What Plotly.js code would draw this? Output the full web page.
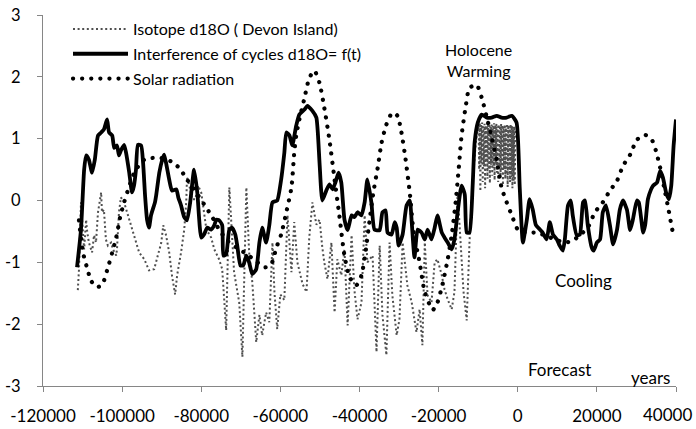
<!DOCTYPE html>
<html>
<head>
<meta charset="utf-8">
<script src="https://cdn.plot.ly/plotly-3.0.1.min.js"></script>
<style>
  html, body { margin: 0; padding: 0; background: #fff; }
  #chart { width: 696px; height: 429px; }
  path[style*="0.1px"] { stroke-linecap: round; }
</style>
</head>
<body>
<div id="chart"></div>
<script>
// ---- Isotope d18O (Devon Island) ----
const isoX = [-111200,-110900,-110400,-110100,-109600,-109100,-108900,-108400,-107600,-107100,-106600,-106100,-105300,-105100,-104600,-104100,-103600,-102800,-102300,-101500,-101300,-100800,-100300,-99500,-98200,-97000,-95700,-94400,-93200,-91900,-91200,-90100,-89600,-88900,-88100,-87400,-86600,-86100,-85100,-84300,-83800,-83600,-83000,-82300,-81500,-80800,-80000,-78700,-77500,-76700,-75500,-74700,-73700,-72900,-71700,-70400,-69600,-68600,-67900,-67100,-66100,-65300,-64600,-63600,-62800,-62000,-61500,-60800,-60000,-59000,-58200,-57200,-56500,-55700,-54400,-53400,-52700,-51900,-50900,-50100,-49400,-48900,-48100,-47100,-46300,-45600,-44600,-43800,-43000,-42000,-41300,-40500,-39500,-38700,-38000,-36700,-35700,-34900,-34200,-33200,-32400,-31700,-30600,-29900,-29100,-27900,-26800,-25600,-24800,-24100,-23500,-22800,-21800,-21000,-20300,-19200,-18500,-17700,-16700,-16000,-15200,-14400,-13700,-12900,-12200,-11400,-10600,
  -9900,-9750,-9600,-9450,-9300,-9150,-9000,-8850,-8700,-8550,-8400,-8250,-8100,-7950,-7800,-7650,-7500,-7350,-7200,-7050,-6900,-6750,-6600,-6450,-6300,-6150,-6000,-5850,-5700,-5550,-5400,-5250,-5100,-4950,-4800,-4650,-4500,-4350,-4200,-4050,-3900,-3750,-3600,-3450,-3300,-3150,-3000,-2850,-2700,-2550,-2400,-2250,-2100,-1950,-1800,-1650,-1500,-1350,-1200,-1050,-900,-750,-600];
const isoY = [-1.45,-1.11,-0.03,-0.31,-0.79,-0.31,-0.47,-0.68,-0.84,-0.56,-0.68,-0.19,0.13,-0.19,-0.15,-0.63,-0.73,-0.68,-0.79,-0.89,-0.79,-0.19,0.05,-0.03,-0.31,-0.56,-0.84,-0.95,-1.13,-1.11,-0.95,-0.68,-0.40,-0.56,-0.84,-1.21,-1.52,-1.21,-0.84,-0.47,-0.03,0.37,0.24,0.02,0.02,0.24,0.13,-0.47,-0.60,-0.79,-0.95,-1.11,-2.10,0.21,-1.16,-1.65,-2.53,0.21,-0.84,-1.32,-2.29,-1.85,-2.18,-1.81,-1.97,-0.68,-1.48,-2.08,-1.52,-1.61,-0.24,-1.16,-0.35,-1.00,-1.35,-1.48,-0.60,-0.03,-0.39,-0.31,-0.76,-1.00,-1.27,-0.68,-1.81,-0.95,-1.21,-0.79,-2.02,-0.56,-1.44,-1.92,-1.65,-0.24,-1.00,-0.89,-2.45,-0.73,-1.85,-2.50,-0.68,-1.53,-2.18,-1.92,-0.68,-1.37,-1.65,-2.13,-1.76,-2.34,-0.68,-1.53,-1.65,-1.00,-0.95,-1.21,-1.44,-1.60,-1.76,-1.48,0.13,-0.68,-1.48,-1.94,-0.68,0.29,0.94,
  1.23,0.50,1.25,0.15,1.22,0.60,1.26,0.30,1.20,0.55,1.24,0.20,1.21,0.62,1.25,0.35,1.22,0.50,1.24,0.28,1.20,0.58,1.23,0.40,1.21,0.52,1.25,0.33,1.22,0.60,1.24,0.45,1.20,0.30,1.23,0.55,1.21,0.38,1.24,0.48,1.22,0.25,1.20,0.50,1.23,0.35,1.21,0.42,1.24,0.22,1.22,0.45,1.20,0.30,1.23,0.38,1.21,0.20,1.19,0.32,1.20,0.25,1.15];

// ---- Interference of cycles d18O = f(t) ----
const intX = [-111400,-110400,-109600,-109100,-108400,-107600,-106900,-106100,-105300,-104600,-103800,-103300,-102500,-102000,-101300,-100800,-100300,-99500,-99000,-98200,-97500,-97000,-96500,-96000,-95200,-94700,-94200,-93700,-93200,-92700,-91700,-91400,-90600,-89900,-89400,-88900,-88100,-87400,-86300,-85800,-85100,-84300,-83600,-82800,-81800,-81000,-80000,-79300,-78500,-77500,-76700,-76200,-75500,-74700,-74400,-73700,-72900,-72200,-71400,-70900,-70100,-69400,-68600,-67900,-67100,-66100,-65300,-64600,-63600,-62800,-62000,-60800,-59800,-59000,-58500,-57700,-57000,-56000,-55200,-53900,-53200,-51900,-50900,-50100,-49400,-48400,-47600,-46800,-46100,-45300,-44600,-43800,-43000,-42000,-41300,-40500,-39500,-38700,-38000,-37000,-36200,-34900,-34200,-33400,-32900,-31900,-31100,-30600,-30100,-29100,-28100,-27300,-26800,-26100,-25300,-24300,-23500,-22800,-21800,-21000,-20300,-19200,-18500,-17700,-16700,-16000,-15200,-14200,-13400,-12900,-12200,-11400,-10900,-10100,-9100,-7800,-6600,-5300,-4100,-2800,-1500,-300,500,1300,2300,3000,3800,4600,5600,6300,7300,8100,8900,9900,10600,11400,11900,12700,13400,13900,14900,15700,16500,17000,17700,18700,19200,20000,20800,21500,22300,23300,24100,25100,25800,26600,27600,28400,29100,30100,30600,31700,32200,32900,33700,34200,35200,36000,36700,37500,38200,38800,39400,40000];
const intY = [-1.08,-0.47,0.50,0.73,0.66,0.45,0.66,1.05,1.10,1.15,1.31,1.10,1.05,0.85,0.89,0.73,0.81,0.90,0.77,0.45,0.13,0.24,0.50,0.90,0.89,0.61,0.08,-0.31,-0.44,-0.24,-0.03,0.08,0.45,0.65,0.74,0.61,0.34,0.16,0.18,0.05,-0.08,-0.27,-0.32,-0.03,0.50,0.13,-0.60,-0.55,-0.44,-0.47,-0.40,-0.31,-0.32,-0.40,-0.89,-0.87,-0.47,-0.44,-0.55,-0.73,-1.05,-1.05,-0.89,-1.00,-1.19,-1.11,-0.68,-0.44,-0.68,-0.40,-0.03,0.00,0.34,0.77,1.10,1.05,0.89,1.21,1.39,1.47,1.53,1.45,1.34,0.61,0.00,0.16,0.26,0.18,0.29,0.45,0.29,-0.31,-0.48,-0.24,-0.27,-0.19,-0.24,-0.03,0.34,-0.03,-0.47,-0.48,-0.19,-0.16,-0.52,-0.55,-0.35,-0.44,-0.73,-0.55,-0.08,0.00,-0.35,-0.92,-0.47,-0.52,-0.63,-0.47,-0.63,-0.44,-0.24,-0.52,-0.60,-0.68,-0.79,-0.63,-0.19,0.24,0.10,-0.52,-0.52,0.24,0.94,1.26,1.39,1.34,1.34,1.37,1.34,1.34,1.37,1.26,0.21,-0.68,-0.31,0.02,-0.15,-0.40,-0.47,-0.52,-0.63,-0.35,-0.55,-0.63,-0.73,-0.81,-0.63,-0.08,0.00,-0.24,-0.56,-0.55,-0.03,0.00,-0.40,-0.76,-0.81,-0.68,-0.63,-0.19,-0.08,-0.40,-0.71,-0.47,-0.15,0.00,-0.15,-0.48,-0.31,0.00,-0.03,-0.52,-0.40,0.02,0.18,0.24,0.29,0.48,0.37,0.13,0.02,0.24,0.89,1.31,1.53];

// ---- Solar radiation ----
const solX = [-110900,-109900,-108900,-107900,-106600,-105100,-103800,-102500,-101500,-100500,-99500,-98200,-96700,-94400,-91900,-89400,-87600,-85600,-83600,-81300,-79300,-77200,-75500,-73400,-70900,-68400,-65800,-63800,-62300,-61000,-59800,-58500,-57200,-56500,-56000,-55200,-53900,-52700,-51400,-50100,-48900,-47600,-46300,-45100,-43800,-42500,-40800,-39500,-38500,-37500,-36500,-35400,-34400,-33200,-31700,-30400,-29400,-28400,-27300,-26300,-24800,-23500,-21500,-20300,-19000,-17700,-16700,-15700,-14900,-14200,-13200,-12200,-10400,-9100,-7800,-6600,-5300,-4100,-2800,-1500,0,1800,4300,6800,9400,11900,13900,15700,17700,19500,21500,23300,25100,26600,28400,30100,32200,33900,34900,36000,37000,38000,39200];
const solY = [-0.32,-0.84,-1.08,-1.29,-1.40,-1.37,-1.13,-0.84,-0.60,-0.27,-0.03,0.23,0.48,0.66,0.69,0.68,0.63,0.53,0.34,0.13,-0.06,-0.27,-0.47,-0.65,-0.77,-0.87,-1.00,-1.08,-1.03,-0.76,-0.55,-0.19,0.21,0.77,1.05,1.31,1.66,1.98,2.10,1.90,1.50,0.98,0.34,-0.24,-0.89,-1.24,-1.37,-1.21,-0.84,-0.35,0.13,0.53,0.94,1.23,1.42,1.37,1.10,0.69,0.13,-0.52,-1.00,-1.48,-1.77,-1.65,-1.35,-0.95,-0.56,-0.03,0.53,1.05,1.50,1.82,1.87,1.66,1.34,1.02,0.65,0.21,-0.03,-0.24,-0.47,-0.52,-0.52,-0.56,-0.63,-0.68,-0.65,-0.56,-0.44,-0.19,-0.03,0.16,0.32,0.56,0.74,0.98,1.06,0.98,0.81,0.53,0.21,-0.11,-0.52];

const seriesNames = ['Isotope d18O ( Devon Island)', 'Interference of cycles d18O= f(t)', 'Solar radiation'];
const xTicks = [-120000,-100000,-80000,-60000,-40000,-20000,0,20000,40000];
// the last label is drawn as an annotation, kept inside the picture as in the reference
const xTickText = ['-120000','-100000','-80000','-60000','-40000','-20000','0','20000',''];
const lastTickLabel = '40000';
const yTicks = [-3,-2,-1,0,1,2,3];

const FONT = 'Lato, "Open Sans", sans-serif';

const traces = [
  { x: isoX, y: isoY, name: seriesNames[0], type: 'scatter', mode: 'lines', legendgroup: 'a',
    line: { color: '#4f4f4f', width: 2, dash: '2px,2.6px' } },
  { x: intX, y: intY, name: seriesNames[1], type: 'scatter', mode: 'lines', legendgroup: 'b',
    line: { color: '#000000', width: 3.8, shape: 'spline', smoothing: 0.5 } },
  { x: solX, y: solY, name: seriesNames[2], type: 'scatter', mode: 'lines', legendgroup: 'c',
    line: { color: '#000000', width: 4.2, dash: '0.1px,9px', shape: 'spline', smoothing: 0.6 } }
];

const layout = {
  width: 696, height: 429,
  margin: { l: 43, r: 20, t: 12, b: 43, pad: 0 },
  paper_bgcolor: '#ffffff', plot_bgcolor: '#ffffff',
  font: { family: FONT, color: '#000000', size: 16 },
  showlegend: true,
  legend: {
    x: 0.0395, y: 1.008, xanchor: 'left', yanchor: 'top',
    bgcolor: 'rgba(0,0,0,0)', font: { family: FONT, size: 16, color: '#000' },
    tracegroupgap: 1, itemwidth: 55
  },
  xaxis: {
    range: [-120000, 40000], tickvals: xTicks, ticktext: xTickText,
    showgrid: false, zeroline: false, showline: true, linecolor: '#868686', linewidth: 1,
    ticks: 'outside', ticklen: 5, tickcolor: '#868686',
    tickfont: { family: FONT, size: 17 }, ticklabelstandoff: 10
  },
  yaxis: {
    range: [-3, 3], tickvals: yTicks, ticktext: yTicks.map(String),
    showgrid: false, zeroline: false, showline: true, linecolor: '#868686', linewidth: 1,
    ticks: 'outside', ticklen: 5, tickcolor: '#868686',
    tickfont: { family: FONT, size: 16.5 }, ticklabelstandoff: 13
  },
  annotations: [
    { x: xTicks[xTicks.length - 1], y: -0.077, xref: 'x', yref: 'paper', text: lastTickLabel,
      showarrow: false, xanchor: 'right', yanchor: 'middle', xshift: 17, borderpad: 0,
      font: { family: FONT, size: 17 } },
    { x: -10000, y: 2.27, xref: 'x', yref: 'y', text: 'Holocene<br>Warming', showarrow: false,
      font: { family: FONT, size: 16 }, align: 'center' },
    { x: 16600, y: -1.30, xref: 'x', yref: 'y', text: 'Cooling', showarrow: false,
      font: { family: FONT, size: 17 } },
    { x: 10600, y: -2.74, xref: 'x', yref: 'y', text: 'Forecast', showarrow: false,
      font: { family: FONT, size: 17 } },
    { x: 33500, y: -2.87, xref: 'x', yref: 'y', text: 'years', showarrow: false,
      font: { family: FONT, size: 17 } }
  ]
};

Plotly.newPlot('chart', traces, layout, { displayModeBar: false, staticPlot: true });
</script>
</body>
</html>
